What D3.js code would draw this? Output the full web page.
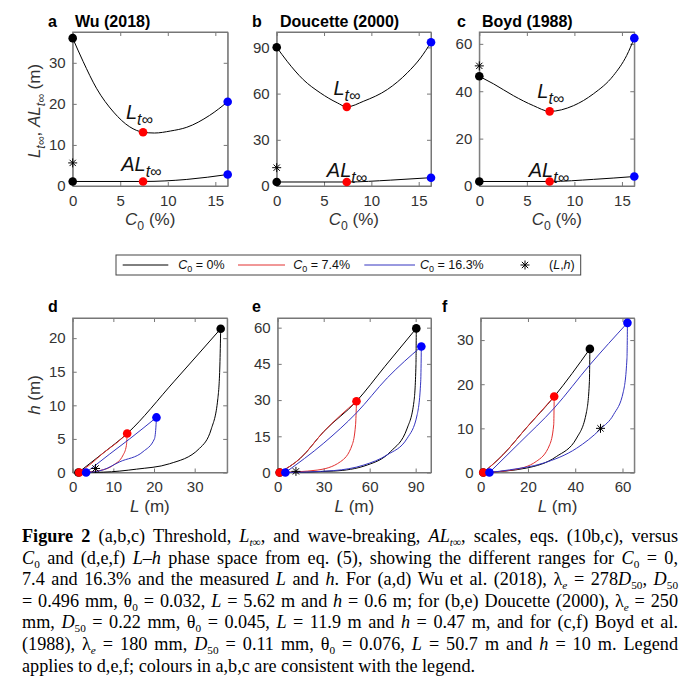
<!DOCTYPE html>
<html>
<head>
<meta charset="utf-8">
<script src="https://cdn.jsdelivr.net/npm/d3@7"></script>
<style>
body { margin: 0; background: #fff; }
svg { display: block; }
</style>
</head>
<body>
<svg id="fig" width="687" height="690"></svg>
<script>
// ---- data ----
const c0Values = [0, 7.4, 16.3];
const c0Labels = ["0%", "7.4%", "16.3%"];
const siteNames = ["Wu (2018)", "Doucette (2000)", "Boyd (1988)"];
const measuredL = [5.62, 11.9, 50.7];
const measuredH = [0.6, 0.47, 10];

// (a,b,c) Lt and ALt versus C0
const wuLtC0 = [0, 1.1, 2.5, 4.3, 6.0, 7.4, 8.6, 10.3, 12.0, 14.4, 16.3];
const wuLt = [36.0, 30.3, 23.8, 18.0, 14.4, 13.1, 12.9, 13.4, 14.3, 17.2, 20.5];
const wuAlC0 = [0, 7.4, 12.0, 16.3];
const wuAl = [1.1, 1.1, 1.6, 2.8];

const doucetteLtC0 = [0, 1.1, 2.8, 4.6, 6.4, 7.4, 9.2, 11.7, 13.8, 15.2, 16.3];
const doucetteLt = [90.1, 81.0, 69.1, 60.5, 54.0, 51.4, 55.1, 62.7, 73.5, 83.2, 93.3];
const doucetteAlC0 = [0, 7.4, 12.0, 16.3];
const doucetteAl = [2.6, 2.6, 3.8, 5.4];

const boydLtC0 = [0, 1.5, 3.6, 5.7, 7.4, 9.9, 12.0, 14.1, 15.5, 16.3];
const boydLt = [46.3, 43.1, 38.1, 33.9, 31.5, 33.9, 38.9, 46.6, 55.1, 62.4];
const boydAlC0 = [0, 7.4, 12.0, 16.3];
const boydAl = [1.9, 1.9, 2.8, 4.0];

// (d,e,f) L-h phase space: upper and lower branches for C0 = 0, 7.4, 16.3 %
const wuUpper = [
  [[1.4, 0], [7.5, 2.9], [13.4, 5.8], [25, 13.6], [36.4, 21.4]],
  [[1.6, 0], [4.5, 1.3], [7.5, 2.9], [10.8, 4.4], [13.4, 5.8]],
  [[3.3, 0], [9, 2.7], [14, 5.0], [20.6, 8.2]]
];
const wuLower = [
  [[1.4, 0], [7.5, 0.05], [15.7, 0.5], [23.8, 1.3], [31.2, 3.6], [34.1, 6.5], [35.7, 11], [36.2, 16], [36.4, 21.4]],
  [[1.6, 0], [6.7, 0.3], [10, 1.1], [12.4, 2.6], [13.2, 4.0], [13.4, 5.8]],
  [[3.3, 0], [7.5, 0.4], [11.6, 1.6], [17.3, 3.1], [20.1, 5.0], [20.5, 7.1], [20.6, 8.2]]
];

const doucetteUpper = [
  [[1.3, 0], [14.8, 5.9], [30.1, 17], [51.4, 29.5], [70, 44], [90.4, 59.7]],
  [[1.3, 0], [14.8, 5.9], [30.1, 17], [51.4, 29.5]],
  [[5, 0], [30.1, 12.2], [51.4, 24.7], [71.5, 39.2], [93.7, 52.2]]
];
const doucetteLower = [
  [[1.3, 0], [36.6, 0.6], [58.4, 3.1], [73.7, 8.7], [84.5, 18.4], [88.9, 29.5], [90.2, 44.8], [90.4, 59.7]],
  [[1.3, 0], [25.7, 1.0], [41, 4.5], [48.6, 11.5], [50.8, 19.8], [51.4, 29.5]],
  [[5, 0], [36.6, 0.8], [56.2, 3.1], [71.4, 7.3], [84.5, 14.2], [91, 24], [93.3, 37.8], [93.7, 52.2]]
];

const boydUpper = [
  [[1.1, 0], [9.4, 4.0], [19.3, 10.1], [31.1, 17.2], [46.2, 28]],
  [[1.1, 0], [9.4, 4.0], [19.3, 10.1], [31.1, 17.2]],
  [[3.7, 0], [16.4, 6.7], [31.1, 14.6], [46.2, 24.4], [62.1, 33.9]]
];
const boydLower = [
  [[1.1, 0], [19.3, 1.0], [32, 3.6], [40.6, 7.8], [44.8, 13.8], [46, 20.6], [46.2, 28]],
  [[1.1, 0], [13.6, 0.6], [23.5, 2.5], [29.2, 6.3], [30.9, 10.8], [31.1, 17.2]],
  [[3.7, 0], [12.2, 0.6], [26.4, 2.1], [40.6, 5.5], [50.8, 9.9], [56.2, 13.1], [60.4, 18.4], [61.9, 25.9], [62.1, 33.9]]
];

// axis ranges and ticks
const topYMax = [37.5, 100, 65];
const topYTicks = [[0, 10, 20, 30], [0, 30, 60, 90], [0, 20, 40, 60]];
const topXTicks = [0, 5, 10, 15];
const phaseXMax = [38, 100, 65];
const phaseYMax = [23, 64, 35];
const phaseXTicks = [[0, 10, 20, 30], [0, 30, 60, 90], [0, 20, 40, 60]];
const phaseYTicks = [[0, 5, 10, 15, 20], [0, 15, 30, 45, 60], [0, 10, 20, 30]];

const dotColors = ["#000000", "#ff0000", "#0000ff"];
const lineColors = ["#000000", "#e23030", "#3535c0"];

// ---- helpers ----
const svg = d3.select("#fig");
const sans = "'Liberation Sans', Arial, sans-serif";
const serif = "'Liberation Serif', 'Times New Roman', serif";

// tiny markup: **bold**, *italic*, _{sub}, _i{italic sub}
function rich(sel, str, size, subRatio = 0.72, shift = 0.3) {
  const parts = str.split(/(\*\*[^*]+\*\*|\*[^*]+\*|_i?\{[^}]+\})/g).filter(s => s !== "");
  let shifted = 0;
  parts.forEach(p => {
    let t = p, italic = false, bold = false, sub = false;
    if (p.startsWith("**")) { t = p.slice(2, -2); bold = true; }
    else if (p.startsWith("*")) { t = p.slice(1, -1); italic = true; }
    else if (p.startsWith("_i{")) { t = p.slice(3, -1); sub = true; italic = true; }
    else if (p.startsWith("_{")) { t = p.slice(2, -1); sub = true; }
    const ts = sel.append("tspan").text(t);
    if (italic) ts.attr("font-style", "italic");
    if (bold) ts.attr("font-weight", "bold");
    const d = sub ? size * shift : 0;
    if (d !== shifted) { ts.attr("dy", d - shifted); shifted = d; }
    if (sub) ts.attr("font-size", size * subRatio);
  });
  return sel;
}

function asterisk(g, cx, cy) {
  const s = 4.5, k = s * 0.7;
  g.append("path")
    .attr("d", `M${cx},${cy - s}V${cy + s}M${cx - s},${cy}H${cx + s}` +
      `M${cx - k},${cy - k}L${cx + k},${cy + k}M${cx - k},${cy + k}L${cx + k},${cy - k}`)
    .attr("stroke", "#000").attr("stroke-width", 1).attr("fill", "none");
}

function frame(g, x, y, xTicks, yTicks) {
  const t = 4;
  const [x0, x1] = x.range(), [y0, y1] = y.range();
  g.append("g").attr("transform", `translate(0,${y0})`)
    .call(d3.axisBottom(x).tickValues(xTicks).tickSize(-t).tickSizeOuter(0).tickPadding(9));
  g.append("g").attr("transform", `translate(0,${y1})`)
    .call(d3.axisTop(x).tickValues(xTicks).tickSize(-t).tickSizeOuter(0).tickFormat(""));
  g.append("g").attr("transform", `translate(${x0},0)`)
    .call(d3.axisLeft(y).tickValues(yTicks).tickSize(-t).tickSizeOuter(0).tickPadding(7));
  g.append("g").attr("transform", `translate(${x1},0)`)
    .call(d3.axisRight(y).tickValues(yTicks).tickSize(-t).tickSizeOuter(0).tickFormat(""));
  g.selectAll(".domain, .tick line").attr("stroke", "#777").attr("stroke-width", 1);
  g.selectAll(".tick text").attr("font-family", sans).attr("font-size", 15).attr("fill", "#333");
  g.append("rect").attr("x", x0).attr("y", y1).attr("width", x1 - x0).attr("height", y0 - y1)
    .attr("fill", "none").attr("stroke", "#777").attr("stroke-width", 1);
}

// ---- top row (a,b,c) ----
const topBoxes = [[72.7, 227.7], [276.7, 431], [479.3, 634.3]];
const topY = [186, 32];
const topLetters = ["a", "b", "c"];
const topLetterX = [48, 252, 457];
const topTitleX = [75, 280, 482];
const ltC0 = [wuLtC0, doucetteLtC0, boydLtC0];
const ltVal = [wuLt, doucetteLt, boydLt];
const alC0 = [wuAlC0, doucetteAlC0, boydAlC0];
const alVal = [wuAl, doucetteAl, boydAl];
const ltLabelAt = [[5.6, 16.2], [6.0, 59], [6.1, 37.2]];
const alLabelAt = [[5.1, 3.6], [5.3, 6.0], [5.2, 3.9]];

topBoxes.forEach((bx, i) => {
  const g = svg.append("g");
  const x = d3.scaleLinear().domain([0, 16.3]).range(bx);
  const y = d3.scaleLinear().domain([0, topYMax[i]]).range(topY);
  frame(g, x, y, topXTicks, topYTicks[i]);

  const line = d3.line().x(d => x(d[0])).y(d => y(d[1])).curve(d3.curveMonotoneX);
  g.append("path").datum(d3.zip(ltC0[i], ltVal[i])).attr("d", line)
    .attr("fill", "none").attr("stroke", "#000").attr("stroke-width", 1);
  g.append("path").datum(d3.zip(alC0[i], alVal[i])).attr("d", line)
    .attr("fill", "none").attr("stroke", "#000").attr("stroke-width", 1);

  c0Values.forEach((c, k) => {
    const lt = ltVal[i][ltC0[i].indexOf(c)];
    const al = alVal[i][alC0[i].indexOf(c)];
    [lt, al].forEach(v => g.append("circle").attr("cx", x(c)).attr("cy", y(v)).attr("r", 4.3)
      .attr("fill", dotColors[k]));
  });
  asterisk(g, x(0), y(measuredL[i]));

  rich(g.append("text").attr("x", x(ltLabelAt[i][0])).attr("y", y(ltLabelAt[i][1]))
    .attr("font-family", sans).attr("font-size", 20).attr("fill", "#111"), "*L*_i{t∞}", 20, 0.8);
  rich(g.append("text").attr("x", x(alLabelAt[i][0])).attr("y", y(alLabelAt[i][1]))
    .attr("font-family", sans).attr("font-size", 20).attr("fill", "#111"), "*AL*_i{t∞}", 20, 0.8);

  svg.append("text").attr("x", topLetterX[i]).attr("y", 27).text(topLetters[i])
    .attr("font-family", sans).attr("font-weight", "bold").attr("font-size", 16);
  svg.append("text").attr("x", topTitleX[i]).attr("y", 27).text(siteNames[i])
    .attr("font-family", sans).attr("font-weight", "bold").attr("font-size", 16);

  rich(svg.append("text").attr("x", (bx[0] + bx[1]) / 2).attr("y", 225)
    .attr("text-anchor", "middle").attr("font-family", sans).attr("font-size", 17).attr("fill", "#333"),
    "*C*_{0} (%)", 17);
});

rich(svg.append("text").attr("transform", "translate(40,111) rotate(-90)")
  .attr("text-anchor", "middle").attr("font-family", sans).attr("font-size", 17).attr("fill", "#333"),
  "*L*_i{t∞}, *AL*_i{t∞} (m)", 17);

// ---- legend ----
const legend = svg.append("g");
legend.append("rect").attr("x", 116).attr("y", 255).attr("width", 464.7).attr("height", 20)
  .attr("fill", "#fff").attr("stroke", "#444").attr("stroke-width", 1);
const legLineX = [[122.7, 168.3], [238, 285], [364.3, 415]];
const legTextX = [178.3, 293.3, 420];
c0Labels.forEach((lab, k) => {
  legend.append("line").attr("x1", legLineX[k][0]).attr("x2", legLineX[k][1])
    .attr("y1", 265).attr("y2", 265).attr("stroke", lineColors[k]).attr("stroke-width", 1);
  rich(legend.append("text").attr("x", legTextX[k]).attr("y", 268.5)
    .attr("font-family", sans).attr("font-size", 12.5).attr("fill", "#111"), "*C*_{0} = " + lab, 12.5);
});
asterisk(legend, 525, 265);
rich(legend.append("text").attr("x", 549).attr("y", 269)
  .attr("font-family", sans).attr("font-size", 12.5).attr("fill", "#111"), "(*L*,*h*)", 12.5);

// ---- bottom row (d,e,f) ----
const phaseBoxes = [[72.7, 227.2], [277.7, 431], [480.7, 634.3]];
const phaseY = [472.5, 318];
const phaseLetters = ["d", "e", "f"];
const phaseLetterX = [48, 252, 442];
const uppers = [wuUpper, doucetteUpper, boydUpper];
const lowers = [wuLower, doucetteLower, boydLower];

phaseBoxes.forEach((bx, i) => {
  const g = svg.append("g");
  const x = d3.scaleLinear().domain([0, phaseXMax[i]]).range(bx);
  const y = d3.scaleLinear().domain([0, phaseYMax[i]]).range(phaseY);
  frame(g, x, y, phaseXTicks[i], phaseYTicks[i]);

  const line = d3.line().x(d => x(d[0])).y(d => y(d[1])).curve(d3.curveMonotoneX);
  [0, 1, 2].forEach(k => {
    [uppers[i][k], lowers[i][k]].forEach(br => {
      g.append("path").datum(br).attr("d", line).attr("fill", "none")
        .attr("stroke", lineColors[k]).attr("stroke-width", 1);
    });
  });
  [0, 1, 2].forEach(k => {
    const up = uppers[i][k];
    [up[0], up[up.length - 1]].forEach(p => g.append("circle")
      .attr("cx", x(p[0])).attr("cy", y(p[1])).attr("r", 4.3).attr("fill", dotColors[k]));
  });
  asterisk(g, x(measuredL[i]), y(measuredH[i]));

  svg.append("text").attr("x", phaseLetterX[i]).attr("y", 312).text(phaseLetters[i])
    .attr("font-family", sans).attr("font-weight", "bold").attr("font-size", 16);
  rich(svg.append("text").attr("x", (bx[0] + bx[1]) / 2).attr("y", 512)
    .attr("text-anchor", "middle").attr("font-family", sans).attr("font-size", 17).attr("fill", "#333"),
    "*L* (m)", 17);
});

rich(svg.append("text").attr("transform", "translate(40,395) rotate(-90)")
  .attr("text-anchor", "middle").attr("font-family", sans).attr("font-size", 17).attr("fill", "#333"),
  "*h* (m)", 17);

// ---- caption (justified with word-spacing) ----
const captionLines = [
  "**Figure 2** (a,b,c) Threshold, *L*_i{t∞}, and wave-breaking, *AL*_i{t∞}, scales, eqs. (10b,c), versus",
  "*C*_{0} and (d,e,f) *L*–*h* phase space from eq. (5), showing the different ranges for *C*_{0} = 0,",
  "7.4 and 16.3% and the measured *L* and *h*. For (a,d) Wu et al. (2018), λ_i{e} = 278*D*_{50}, *D*_{50}",
  "= 0.496 mm, θ_{0} = 0.032, *L* = 5.62 m and *h* = 0.6 m; for (b,e) Doucette (2000), λ_i{e} = 250",
  "mm, *D*_{50} = 0.22 mm, θ_{0} = 0.045, *L* = 11.9 m and *h* = 0.47 m, and for (c,f) Boyd et al.",
  "(1988), λ_i{e} = 180 mm, *D*_{50} = 0.11 mm, θ_{0} = 0.076, *L* = 50.7 m and *h* = 10 m. Legend",
  "applies to d,e,f; colours in a,b,c are consistent with the legend."
];
captionLines.forEach((s, j) => {
  const t = svg.append("text").attr("x", 22).attr("y", 542 + j * 21.6)
    .attr("font-family", serif).attr("font-size", 18.2).attr("fill", "#000");
  rich(t, s, 18.2, 0.62, 0.22);
  if (j < captionLines.length - 1) {
    const natural = t.node().getComputedTextLength();
    const spaces = (t.text().match(/ /g) || []).length;
    t.attr("word-spacing", (656 - natural) / spaces);
  }
});
</script>
</body>
</html>
